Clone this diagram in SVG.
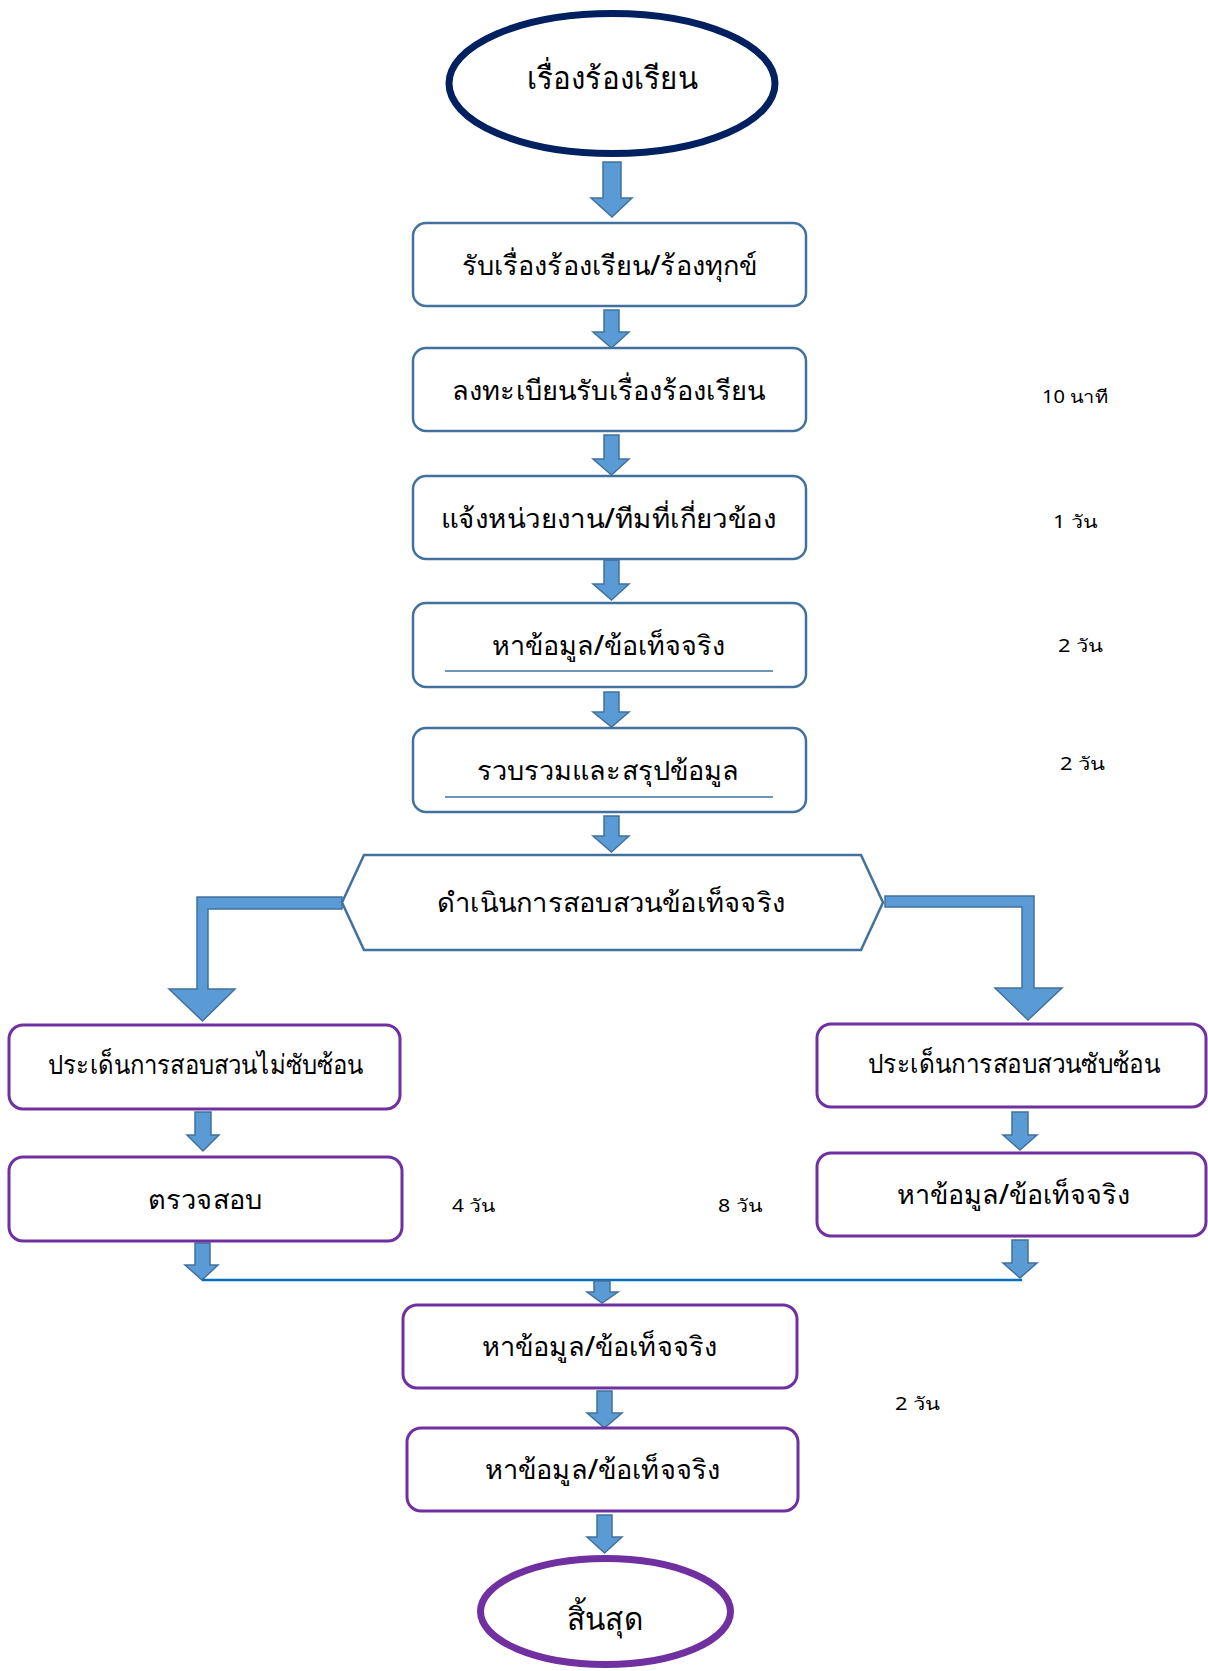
<svg xmlns="http://www.w3.org/2000/svg" width="1208" height="1671" viewBox="0 0 1208 1671">
<style>
text{font-family:"Noto Sans","DejaVu Sans",sans-serif;fill:#000;text-anchor:middle;font-weight:500}
.t{font-size:27px}
.big{font-size:31px}
.lbl{font-size:18px;text-anchor:start;font-weight:normal}
.bb{fill:#fff;stroke:#41719c;stroke-width:2.5}
.pb{fill:#fff;stroke:#7030a0;stroke-width:3}
.ar{fill:#5b9bd5;stroke:#41719c;stroke-width:1.5;stroke-linejoin:miter}
.ul{stroke:#41719c;stroke-width:1.5}
</style>
<rect width="1208" height="1671" fill="#fff"/>
<g id="connectors">
<path class="ar" d="M603,162H621V198H632L612,217L591,198H603Z"/>
<path class="ar" d="M604,310H619V332H629L611.5,348L593,332H604Z"/>
<path class="ar" d="M604,435H619V459H629L611.5,475L593,459H604Z"/>
<path class="ar" d="M604,560H619V584H629L611.5,600L593,584H604Z"/>
<path class="ar" d="M604,692H619V712H629L611.5,727L593,712H604Z"/>
<path class="ar" d="M604,816H619V836H629L611.5,852L593,836H604Z"/>
<path class="ar" d="M342,897H197V989H169L202.5,1021L235,989H208V909H342Z"/>
<path class="ar" d="M885,896H1034V988H1062L1028,1020L995,988H1022V907H885Z"/>
<path class="ar" d="M195,1112H211V1135H219L203,1151L187,1135H195Z"/>
<path class="ar" d="M195,1243H210V1265H218L202,1280L185,1265H195Z"/>
<path class="ar" d="M1012,1112H1028V1135H1037L1020,1150L1003,1135H1012Z"/>
<path class="ar" d="M1012,1240H1028V1263H1037L1020,1278L1003,1263H1012Z"/>
<line x1="202" y1="1280" x2="1022" y2="1280" stroke="#0070c0" stroke-width="2.5"/>
<path class="ar" d="M594,1281H610V1292H618L602,1303L587,1292H594Z"/>
<path class="ar" d="M597,1391H612V1413H622L604.5,1428L587,1413H597Z"/>
<path class="ar" d="M597,1515H612V1537H622L604.5,1553L587,1537H597Z"/>
</g>
<g id="start">
<ellipse cx="612" cy="83.5" rx="163" ry="70" fill="#fff" stroke="#002060" stroke-width="7"/>
<text class="big" x="612" y="89" textLength="171" lengthAdjust="spacingAndGlyphs">เรื่องร้องเรียน</text>
</g>
<g id="receive">
<rect class="bb" x="413" y="223" width="393" height="83" rx="13"/>
<text class="t" x="609.5" y="275" textLength="295" lengthAdjust="spacingAndGlyphs">รับเรื่องร้องเรียน/ร้องทุกข์</text>
</g>
<g id="register">
<rect class="bb" x="413" y="348" width="393" height="83" rx="13"/>
<text class="t" x="608.5" y="400" textLength="313" lengthAdjust="spacingAndGlyphs">ลงทะเบียนรับเรื่องร้องเรียน</text>
</g>
<g id="notify">
<rect class="bb" x="413" y="476" width="393" height="83" rx="13"/>
<text class="t" x="608.5" y="528" textLength="335" lengthAdjust="spacingAndGlyphs">แจ้งหน่วยงาน/ทีมที่เกี่ยวข้อง</text>
</g>
<g id="find1">
<rect class="bb" x="413" y="603" width="393" height="84" rx="13"/>
<line class="ul" x1="445" y1="671" x2="773" y2="671"/>
<text class="t" x="608.5" y="655" textLength="233" lengthAdjust="spacingAndGlyphs">หาข้อมูล/ข้อเท็จจริง</text>
</g>
<g id="collect">
<rect class="bb" x="413" y="728" width="393" height="84" rx="13"/>
<line class="ul" x1="445" y1="797" x2="773" y2="797"/>
<text class="t" x="608" y="780" textLength="262" lengthAdjust="spacingAndGlyphs">รวบรวมและสรุปข้อมูล</text>
</g>
<g id="investigate">
<polygon points="342,902.5 364,855 861,855 883,902.5 861,950 364,950" fill="#fff" stroke="#41719c" stroke-width="2.5"/>
<text class="t" x="611" y="912" textLength="348" lengthAdjust="spacingAndGlyphs">ดำเนินการสอบสวนข้อเท็จจริง</text>
</g>
<g id="simple">
<rect class="pb" x="9" y="1025" width="391" height="84" rx="14"/>
<text class="t" x="205.5" y="1074" textLength="315" lengthAdjust="spacingAndGlyphs">ประเด็นการสอบสวนไม่ซับซ้อน</text>
</g>
<g id="check">
<rect class="pb" x="9" y="1157" width="393" height="84" rx="14"/>
<text class="t" x="205" y="1209" textLength="114" lengthAdjust="spacingAndGlyphs">ตรวจสอบ</text>
</g>
<g id="complex">
<rect class="pb" x="817" y="1024" width="389" height="83" rx="14"/>
<text class="t" x="1014" y="1073" textLength="292" lengthAdjust="spacingAndGlyphs">ประเด็นการสอบสวนซับซ้อน</text>
</g>
<g id="find2">
<rect class="pb" x="817" y="1153" width="389" height="83" rx="14"/>
<text class="t" x="1013.5" y="1204" textLength="233" lengthAdjust="spacingAndGlyphs">หาข้อมูล/ข้อเท็จจริง</text>
</g>
<g id="find3">
<rect class="pb" x="403" y="1305" width="394" height="83" rx="14"/>
<text class="t" x="599.5" y="1356" textLength="235" lengthAdjust="spacingAndGlyphs">หาข้อมูล/ข้อเท็จจริง</text>
</g>
<g id="find4">
<rect class="pb" x="407" y="1428" width="391" height="83" rx="14"/>
<text class="t" x="602.5" y="1479" textLength="235" lengthAdjust="spacingAndGlyphs">หาข้อมูล/ข้อเท็จจริง</text>
</g>
<g id="end">
<ellipse cx="605.5" cy="1611.5" rx="125" ry="53" fill="#fff" stroke="#7030a0" stroke-width="7"/>
<text class="big" x="605" y="1630" textLength="76" lengthAdjust="spacingAndGlyphs">สิ้นสุด</text>
</g>
<g id="durations">
<text class="lbl" x="1042" y="403" textLength="66" lengthAdjust="spacingAndGlyphs">10 นาที</text>
<text class="lbl" x="1053" y="528" textLength="44" lengthAdjust="spacingAndGlyphs">1 วัน</text>
<text class="lbl" x="1058" y="652" textLength="45" lengthAdjust="spacingAndGlyphs">2 วัน</text>
<text class="lbl" x="1060" y="770" textLength="45" lengthAdjust="spacingAndGlyphs">2 วัน</text>
<text class="lbl" x="452" y="1212" textLength="43" lengthAdjust="spacingAndGlyphs">4 วัน</text>
<text class="lbl" x="718" y="1212" textLength="44" lengthAdjust="spacingAndGlyphs">8 วัน</text>
<text class="lbl" x="895" y="1410" textLength="45" lengthAdjust="spacingAndGlyphs">2 วัน</text>
</g>
</svg>
